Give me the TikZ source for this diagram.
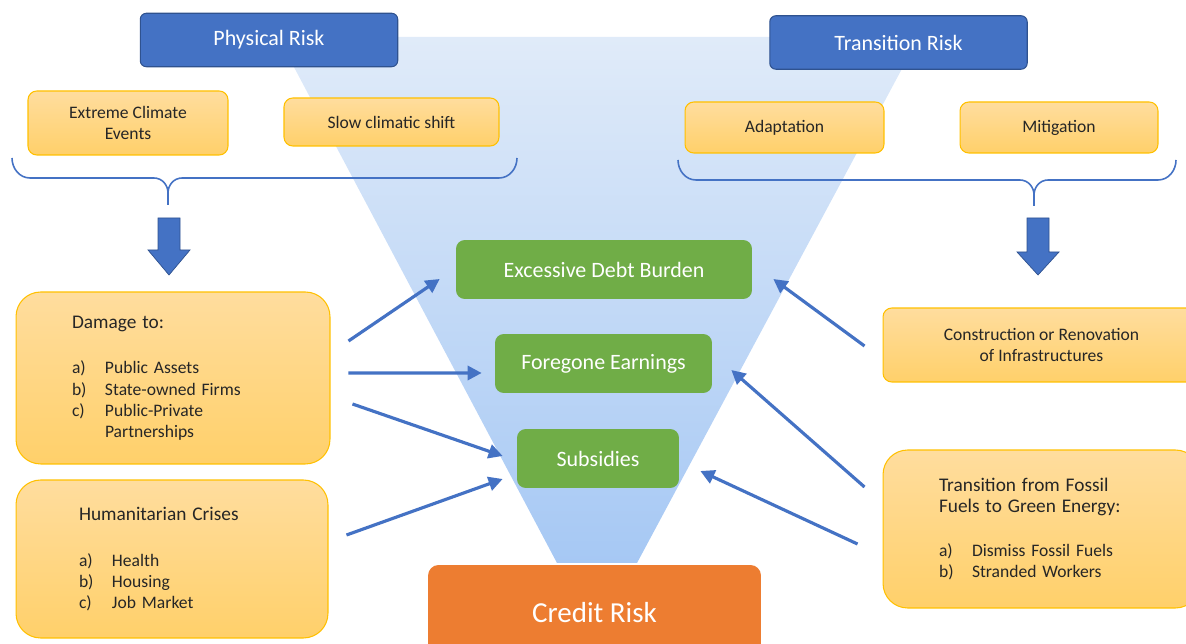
\documentclass[tikz,border=0pt]{standalone}
\usepackage{fontspec}
\setmainfont{Carlito}
\usepackage{tikz}
\usetikzlibrary{arrows.meta}
\definecolor{headblue}{HTML}{4472C4}
\definecolor{headline}{HTML}{2F528F}
\definecolor{factorline}{HTML}{FFC000}
\definecolor{factortop}{HTML}{FFDD9E}
\definecolor{factorbot}{HTML}{FFD06A}
\definecolor{channelgreen}{HTML}{70AD47}
\definecolor{creditorange}{HTML}{ED7D31}
\definecolor{funneltop}{HTML}{E0EBF9}
\definecolor{funnelbot}{HTML}{A6C8F4}
\definecolor{textgray}{HTML}{262626}
\newcommand{\listitem}[2]{\makebox[0.66cm][l]{#1}#2}

\begin{document}
\begin{tikzpicture}[x=0.02cm, y=-0.02cm,
  riskhead/.style={draw=headline, fill=headblue, rounded corners=3.5pt, line width=0.6pt, text=white, font=\fontsize{12.5}{15}\selectfont, minimum width=5.15cm, minimum height=1.07cm},
  factor/.style={draw=factorline, top color=factortop, bottom color=factorbot, rounded corners=5pt, line width=0.6pt, text=textgray, align=center, font=\fontsize{10}{12}\selectfont},
  bigfactor/.style={factor, rounded corners=14pt, align=left},
  channel/.style={fill=channelgreen, rounded corners=5pt, text=white, font=\fontsize{12.5}{15}\selectfont, minimum height=1.18cm},
  flow/.style={draw=headblue, line width=1.8pt, -{Triangle[length=8pt,width=8pt]}},
  bracket/.style={draw=headblue, line width=0.9pt},
  blockarrow/.style={fill=headblue, draw=headline, line width=0.4pt}]
\clip (0,0) rectangle (1186,644);
\shade[top color=funneltop, bottom color=funnelbot] (278,37) -- (919,37) -- (637,563) -- (557,563) -- cycle;

\node[riskhead] (phys) at (269,40) {Physical Risk};
\node[riskhead] (trans) at (898.5,42.5) {Transition Risk};

\node[factor, minimum width=4cm, minimum height=1.28cm] (extreme) at (128,123) {Extreme Climate\\Events};
\node[factor, minimum width=4.3cm, minimum height=0.96cm] (slow) at (391.5,122) {Slow climatic shift};
\node[factor, minimum width=3.98cm, minimum height=1.02cm] (adapt) at (784.5,127.5) {Adaptation};
\node[factor, minimum width=3.96cm, minimum height=1.02cm] (mitig) at (1059,127.5) {Mitigation};

\draw[bracket] (12,158) to[out=-90,in=180] (30,178) -- (154,178) to[out=0,in=90] (168,193) -- (168,205);
\draw[bracket] (168,193) to[out=90,in=180] (182,178) -- (499,178) to[out=0,in=-90] (517,158);
\draw[bracket] (678,160) to[out=-90,in=180] (696,180) -- (1020,180) to[out=0,in=90] (1034,195) -- (1034,206);
\draw[bracket] (1034,195) to[out=90,in=180] (1048,180) -- (1158,180) to[out=0,in=-90] (1176,160);

\draw[blockarrow] (158,218) -- (180,218) -- (180,250) -- (190,250) -- (169,275) -- (148,250) -- (158,250) -- cycle;
\draw[blockarrow] (1027,218) -- (1049,218) -- (1049,252) -- (1059,252) -- (1038,275) -- (1017,252) -- (1027,252) -- cycle;

\node[bigfactor, minimum height=3.44cm, text width=4.04cm, inner xsep=1.12cm] (dmg) at (173,378) {{\fontsize{11}{13}\selectfont Damage to:}\\[14pt]
\listitem{a)}{Public Assets}\\
\listitem{b)}{State-owned Firms}\\
\listitem{c)}{Public-Private}\\
\hspace*{0.66cm}Partnerships};
\node[bigfactor, minimum height=3.16cm, text width=3.72cm, inner xsep=1.26cm] (human) at (172,559) {{\fontsize{11}{13}\selectfont Humanitarian Crises}\\[14pt]
\listitem{a)}{Health}\\
\listitem{b)}{Housing}\\
\listitem{c)}{Job Market}};
\node[factor, minimum width=6.34cm, minimum height=1.48cm] (constr) at (1041.5,345) {Construction or Renovation\\of Infrastructures};
\node[bigfactor, minimum height=3.16cm, text width=4.1cm, inner xsep=1.12cm] (fossil) at (1041.5,529) {{\fontsize{11}{13.6}\selectfont Transition from Fossil\\Fuels to Green Energy:}\\[13pt]
\listitem{a)}{Dismiss Fossil Fuels}\\
\listitem{b)}{Stranded Workers}};

\node[channel, minimum width=5.92cm] (debt) at (604,269.5) {Excessive Debt Burden};
\node[channel, minimum width=4.34cm] (fore) at (603.5,363.5) {Foregone Earnings};
\node[channel, minimum width=3.24cm] (subs) at (598,458.5) {Subsidies};
\node[fill=creditorange, rounded corners=6pt, text=white, font=\fontsize{16.5}{20}\selectfont, minimum width=6.66cm, minimum height=1.9cm] (credit) at (594.5,612.5) {Credit Risk};

\draw[flow] ([xshift=0.36cm,yshift=0.74cm]dmg.east) -- ([xshift=-0.32cm,yshift=-0.19cm]debt.west);
\draw[flow] ([xshift=0.36cm,yshift=0.1cm]dmg.east) -- ([xshift=-0.26cm,yshift=-0.19cm]fore.west);
\draw[flow] ([xshift=0.44cm,yshift=-0.52cm]dmg.east) -- ([xshift=-0.28cm,yshift=0.05cm]subs.west);
\draw[flow] ([xshift=0.36cm,yshift=0.48cm]human.east) -- ([xshift=-0.28cm,yshift=-0.41cm]subs.west);
\draw[flow] ([xshift=-0.36cm,yshift=-0.02cm]constr.west) -- ([xshift=0.42cm,yshift=-0.19cm]debt.east);
\draw[flow] ([xshift=-0.36cm,yshift=0.84cm]fossil.west) -- ([xshift=0.38cm,yshift=-0.13cm]fore.east);
\draw[flow] ([xshift=-0.5cm,yshift=-0.3cm]fossil.west) -- ([xshift=0.42cm,yshift=-0.25cm]subs.east);
\end{tikzpicture}
\end{document}
